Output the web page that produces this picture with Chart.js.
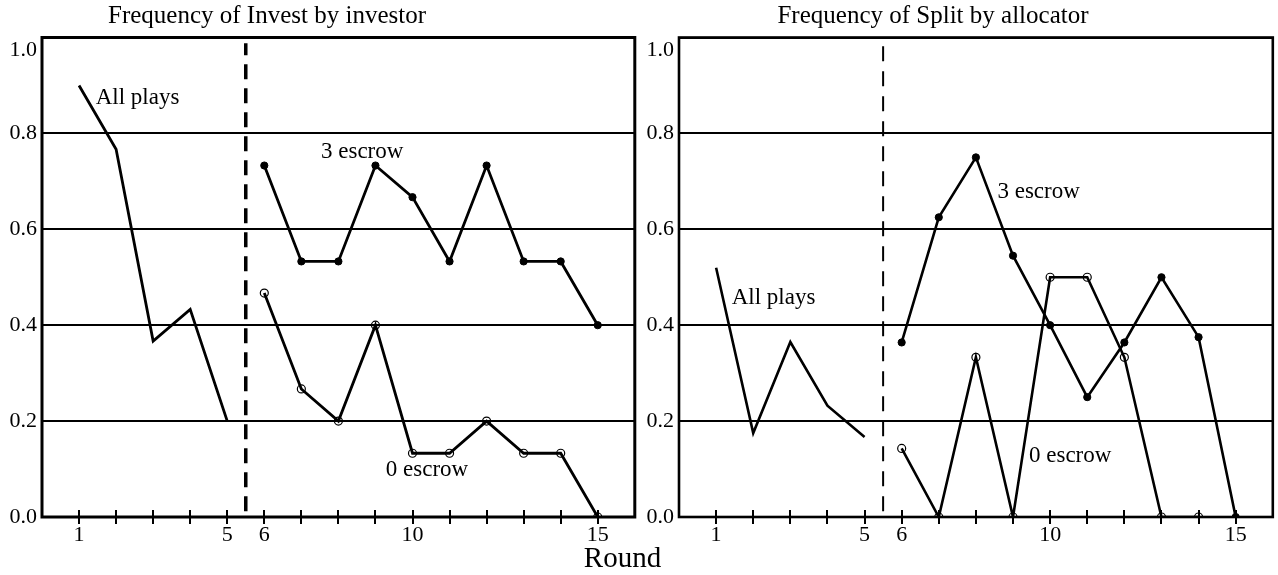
<!DOCTYPE html>
<html>
<head>
<meta charset="utf-8">
<script src="https://cdn.jsdelivr.net/npm/chart.js@4.4.1/dist/chart.umd.min.js"></script>
<style>
  html, body { margin: 0; padding: 0; background: #fff; }
  #wrap { position: relative; width: 1278px; height: 575px; overflow: hidden; }
  .panel { position: absolute; top: 0; height: 575px; }
  #leftPanel { left: 0; width: 640px; }
  #rightPanel { left: 640px; width: 638px; }
  .title {
    position: absolute; top: 0; width: 400px; text-align: center;
    font: 25px "Liberation Serif", serif; line-height: 30px; color: #000;
  }
  #investTitle { left: 67px; }
  #splitTitle { left: 733px; }
  #xTitle {
    position: absolute; left: 0; width: 1245px; top: 541px;
    text-align: center; font: 29px "Liberation Serif", serif; line-height: 32px; color: #000;
  }
</style>
</head>
<body>
<div id="wrap">
  <div class="panel" id="leftPanel"><canvas id="investChart"></canvas></div>
  <div class="panel" id="rightPanel"><canvas id="splitChart"></canvas></div>
  <div class="title" id="investTitle">Frequency of Invest by investor</div>
  <div class="title" id="splitTitle">Frequency of Split by allocator</div>
  <div id="xTitle">Round</div>
</div>
<script>
// Rounds: 1-5 pooled play, 6-15 split by escrow treatment
const allRounds = [1, 2, 3, 4, 5];
const escrowRounds = [6, 7, 8, 9, 10, 11, 12, 13, 14, 15];
const tickRounds = [1, 2, 3, 4, 5, 6, 7, 8, 9, 10, 11, 12, 13, 14, 15];
const labelledRounds = [1, 5, 6, 10, 15];
const phaseBoundary = 5.5;

// Frequency of Invest by investor
const investAllPlays = [0.9, 0.767, 0.367, 0.433, 0.2];
const invest3Escrow = [0.733, 0.533, 0.533, 0.733, 0.667, 0.533, 0.733, 0.533, 0.533, 0.4];
const invest0Escrow = [0.467, 0.267, 0.2, 0.4, 0.133, 0.133, 0.2, 0.133, 0.133, 0];

// Frequency of Split by allocator
const splitAllPlays = [0.52, 0.175, 0.365, 0.232, 0.167];
const split3Escrow = [0.364, 0.625, 0.75, 0.545, 0.4, 0.25, 0.364, 0.5, 0.375, 0];
const split0Escrow = [0.143, 0, 0.333, 0, 0.5, 0.5, 0.333, 0, 0, null];

// Series captions, anchored in data coordinates
const investCaptions = [
  { text: 'All plays', x: 1.45, y: 0.873 },
  { text: '3 escrow', x: 7.53, y: 0.762 },
  { text: '0 escrow', x: 9.28, y: 0.098 }
];
const splitCaptions = [
  { text: 'All plays', x: 1.42, y: 0.457 },
  { text: '3 escrow', x: 8.58, y: 0.678 },
  { text: '0 escrow', x: 9.43, y: 0.127 }
];

const SERIF = '"Liberation Serif", "Times New Roman", serif';

function pairs(xs, ys) {
  return xs.map((x, i) => ({ x: x, y: ys[i] }));
}

// Box frame, crossing tick marks and series captions
const framePlugin = {
  id: 'frame',
  afterDatasetsDraw(chart, args, opts) {
    const ctx = chart.ctx;
    const a = chart.chartArea;
    const xs = chart.scales.x, ys = chart.scales.y;
    ctx.save();
    ctx.strokeStyle = '#000';
    ctx.lineWidth = opts.tickWidth;
    for (const r of tickRounds) {
      const px = Math.round(xs.getPixelForValue(r));
      ctx.beginPath();
      ctx.moveTo(px, a.bottom - 7);
      ctx.lineTo(px, a.bottom + 7);
      ctx.stroke();
    }
    ctx.lineWidth = opts.frameWidth;
    ctx.strokeRect(a.left, a.top, a.right - a.left, a.bottom - a.top);
    ctx.fillStyle = '#000';
    ctx.font = '23px ' + SERIF;
    ctx.textAlign = 'left';
    ctx.textBaseline = 'middle';
    for (const c of opts.captions) {
      ctx.fillText(c.text, xs.getPixelForValue(c.x), ys.getPixelForValue(c.y));
    }
    ctx.restore();
  }
};

function makeChart(canvasId, allPlays, esc3, esc0, captions, style) {
  const datasets = [
    {
      label: 'All plays',
      data: pairs(allRounds, allPlays),
      borderColor: '#000', borderWidth: style.lineWidth,
      pointRadius: 0, tension: 0
    },
    {
      label: '3 escrow',
      data: pairs(escrowRounds, esc3),
      borderColor: '#000', borderWidth: style.lineWidth,
      pointRadius: 3.6, pointBackgroundColor: '#000', pointBorderColor: '#000',
      pointBorderWidth: 1, tension: 0
    },
    {
      label: '0 escrow',
      data: pairs(escrowRounds, esc0),
      borderColor: '#000', borderWidth: style.lineWidth,
      pointRadius: 4, pointBackgroundColor: 'rgba(0,0,0,0)', pointBorderColor: '#000',
      pointBorderWidth: 1.2, tension: 0, spanGaps: false
    },
    {
      label: 'phase boundary',
      data: [{ x: phaseBoundary, y: 0.012 }, { x: phaseBoundary, y: 0.988 }],
      borderColor: '#000', borderWidth: style.dashWidth, borderDash: style.dash,
      pointRadius: 0, tension: 0
    }
  ];

  return new Chart(document.getElementById(canvasId), {
    type: 'line',
    data: { datasets: datasets },
    plugins: [framePlugin],
    options: {
      responsive: true,
      maintainAspectRatio: false,
      animation: false,
      events: [],
      layout: { padding: { left: 0, right: style.padRight, top: 37.5, bottom: 0 } },
      plugins: {
        legend: { display: false },
        tooltip: { enabled: false },
        title: { display: false },
        frame: { captions: captions, frameWidth: style.frameWidth, tickWidth: 2 }
      },
      scales: {
        x: {
          type: 'linear',
          min: 0, max: 16,
          afterFit: (s) => { s.height = 58; },
          afterBuildTicks: (s) => { s.ticks = labelledRounds.map(v => ({ value: v })); },
          grid: { display: false, drawTicks: false },
          border: { display: false },
          ticks: {
            autoSkip: false, maxRotation: 0, padding: 5,
            color: '#000',
            font: { family: SERIF, size: 22 },
            callback: (v) => String(v)
          }
        },
        y: {
          min: 0, max: 1,
          afterFit: (s) => { s.width = style.yWidth; },
          grid: { color: '#000', lineWidth: 2, drawTicks: false },
          border: { display: false },
          ticks: {
            stepSize: 0.2, padding: 5,
            color: '#000',
            font: { family: SERIF, size: 22 },
            callback: (v) => (v >= 0.999 ? ['', '1.0'] : Number(v).toFixed(1))
          }
        }
      }
    }
  });
}

makeChart('investChart',
  investAllPlays, invest3Escrow, invest0Escrow, investCaptions,
  { lineWidth: 2.8, dashWidth: 3.5, dash: [15, 9], frameWidth: 3, yWidth: 42, padRight: 3 });

makeChart('splitChart',
  splitAllPlays, split3Escrow, split0Escrow, splitCaptions,
  { lineWidth: 2.6, dashWidth: 2, dash: [15, 10], frameWidth: 2.6, yWidth: 39, padRight: 2 });
</script>
</body>
</html>
